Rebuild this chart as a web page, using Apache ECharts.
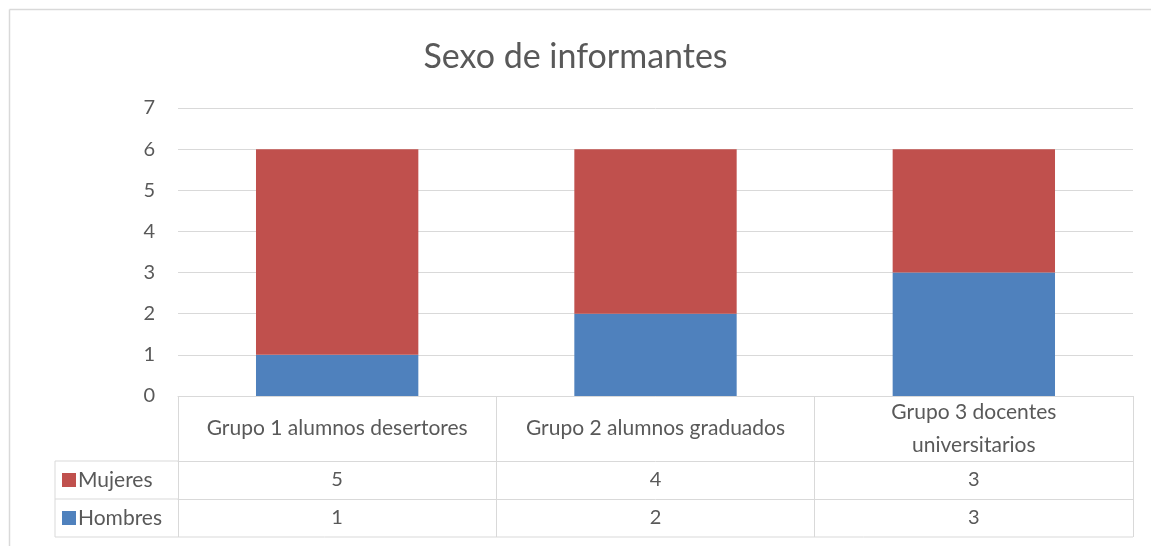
<!DOCTYPE html>
<html>
<head>
<meta charset="utf-8">
<script src="https://cdn.jsdelivr.net/npm/echarts@6/dist/echarts.min.js"></script>
<style>
  html, body { margin: 0; padding: 0; background: #fff; }
  #main { width: 1151px; height: 546px; }
</style>
</head>
<body>
<div id="main"></div>
<script>
// datos
var categorias = ['Grupo 1 alumnos desertores', 'Grupo 2 alumnos graduados', 'Grupo 3 docentes\nuniversitarios']
var hombres = [1, 2, 3]
var mujeres = [5, 4, 3]
var yTicks = [0, 1, 2, 3, 4, 5, 6, 7]

var gris = '#d9d9d9'
var texto = '#595959'
var fuente = 'Lato'
var tam = 21
var tamNum = 20

// grid
var gL = 178, gR = 1133, gT = 108, gB = 396
var fila = 38, cabecera = 65, colIzq = 55

var myChart = echarts.init(document.getElementById('main'))
var option = {
  animation: false,
  textStyle: { fontFamily: fuente },
  title: {
    text: 'Sexo de informantes',
    left: 'center',
    top: 35,
    textStyle: { fontSize: 34, fontWeight: 'normal', color: texto, fontFamily: fuente }
  },
  legend: {
    orient: 'vertical',
    left: 62,
    top: gB + cabecera + fila / 2 - tam / 2,
    padding: 0,
    height: 80,
    itemGap: fila - tam,
    itemWidth: 14,
    itemHeight: 14,
    icon: 'rect',
    data: ['Mujeres', 'Hombres'],
    textStyle: { fontSize: tam, color: texto, padding: [0, 0, 0, -3] }
  },
  grid: { left: gL, right: 1151 - gR, top: gT, bottom: 546 - gB, containLabel: false },
  xAxis: [
    {
      type: 'category',
      data: categorias,
      axisLine: { lineStyle: { color: gris } },
      axisTick: { show: true, interval: 0, length: cabecera + 2 * fila, lineStyle: { color: gris } },
      axisLabel: { interval: 0, color: texto, fontSize: tam, margin: cabecera / 2, lineHeight: 33, verticalAlign: 'middle' }
    },
    {
      type: 'category',
      data: mujeres.map(String),
      position: 'bottom',
      offset: cabecera,
      axisLine: { lineStyle: { color: gris } },
      axisTick: { show: false },
      axisLabel: { interval: 0, color: texto, fontSize: tamNum, margin: fila / 2, verticalAlign: 'middle' }
    },
    {
      type: 'category',
      data: hombres.map(String),
      position: 'bottom',
      offset: cabecera + fila,
      axisLine: { lineStyle: { color: gris } },
      axisTick: { show: false },
      axisLabel: { interval: 0, color: texto, fontSize: tamNum, margin: fila / 2, verticalAlign: 'middle' }
    }
  ],
  yAxis: {
    type: 'value',
    min: yTicks[0],
    max: yTicks[yTicks.length - 1],
    interval: 1,
    axisLine: { show: false },
    axisTick: { show: false },
    splitLine: { lineStyle: { color: gris } },
    axisLabel: { color: texto, fontSize: tamNum, margin: 23 }
  },
  series: [
    {
      name: 'Hombres',
      type: 'bar',
      stack: 'total',
      barWidth: '51%',
      itemStyle: { color: '#4f81bd' },
      data: hombres
    },
    {
      name: 'Mujeres',
      type: 'bar',
      stack: 'total',
      barWidth: '51%',
      itemStyle: { color: '#c0504d' },
      data: mujeres
    }
  ],
  graphic: [
    // borde exterior
    { type: 'line', shape: { x1: 9.5, y1: 9.5, x2: 1151, y2: 9.5 }, style: { stroke: gris, lineWidth: 1.5 } },
    { type: 'line', shape: { x1: 9.5, y1: 9.5, x2: 9.5, y2: 546 }, style: { stroke: gris, lineWidth: 1.5 } },
    // tabla de datos
    { type: 'line', shape: { x1: colIzq, y1: gB + cabecera, x2: gL, y2: gB + cabecera }, style: { stroke: gris } },
    { type: 'line', shape: { x1: colIzq, y1: gB + cabecera + fila, x2: gL, y2: gB + cabecera + fila }, style: { stroke: gris } },
    { type: 'line', shape: { x1: colIzq, y1: gB + cabecera + 2 * fila, x2: gR, y2: gB + cabecera + 2 * fila }, style: { stroke: gris } },
    { type: 'line', shape: { x1: colIzq, y1: gB + cabecera, x2: colIzq, y2: gB + cabecera + 2 * fila }, style: { stroke: gris } }
  ]
}
myChart.setOption(option)
</script>
</body>
</html>
